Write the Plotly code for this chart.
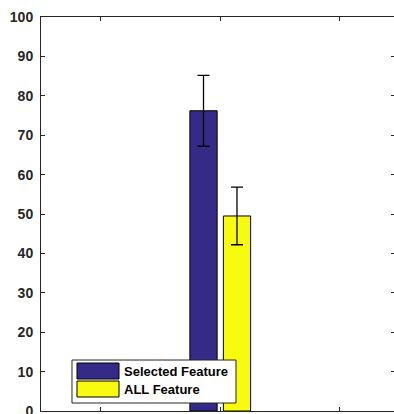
import plotly.graph_objects as go

# Grouped bar data (one group at x = 2 on a 1..3 axis)
group_x = [2]
series_names = ["Selected Feature", "ALL Feature"]
selected_vals = [76.2]
selected_err = [9.0]
all_vals = [49.5]
all_err = [7.3]
y_ticks = list(range(0, 101, 10))

blue = "rgb(53,42,135)"
yellow = "rgb(249,251,14)"
axis_col = "#262626"
bar_w = 0.228

fig = go.Figure()
fig.add_trace(go.Bar(
    x=group_x, y=selected_vals, name=series_names[0],
    width=bar_w, offset=-0.255,
    marker=dict(color=blue, line=dict(color="black", width=1)),
    error_y=dict(type="data", array=selected_err, color="black", thickness=1.3, width=6),
    showlegend=False,
))
fig.add_trace(go.Bar(
    x=group_x, y=all_vals, name=series_names[1],
    width=bar_w, offset=0.025,
    marker=dict(color=yellow, line=dict(color="black", width=1)),
    error_y=dict(type="data", array=all_err, color="black", thickness=1.3, width=6),
    showlegend=False,
))
# invisible trace to carry the right-hand tick axis
fig.add_trace(go.Scatter(x=group_x, y=[0], yaxis="y2", mode="markers",
                         marker=dict(opacity=0), showlegend=False, hoverinfo="skip"))

# Hand-drawn legend box in the lower-left of the plot area
L = dict(x0=0.0878, x1=0.5524, y0=0.0203, y1=0.1294)
shapes = [
    dict(type="rect", xref="paper", yref="paper", **L,
         fillcolor="white", line=dict(color=axis_col, width=1), layer="above"),
    dict(type="rect", xref="paper", yref="paper", x0=0.102, x1=0.221, y0=0.0812, y1=0.1218,
         fillcolor=blue, line=dict(color="black", width=1), layer="above"),
    dict(type="rect", xref="paper", yref="paper", x0=0.102, x1=0.221, y0=0.0355, y1=0.0761,
         fillcolor=yellow, line=dict(color="black", width=1), layer="above"),
]
annotations = [
    dict(xref="paper", yref="paper", x=0.2295, y=yy, text=f"<b>{t}</b>", showarrow=False,
         xanchor="left", yanchor="middle", font=dict(size=13, color="black"))
    for t, yy in zip(series_names, [0.1015, 0.0558])
]

fig.update_layout(
    width=394, height=414,
    margin=dict(l=41, r=0, t=17, b=3, autoexpand=False),
    paper_bgcolor="white", plot_bgcolor="white",
    font=dict(family="Liberation Sans, Arial, sans-serif", color=axis_col),
    barmode="overlay",
    shapes=shapes, annotations=annotations,
    xaxis=dict(range=[0.5, 3.452], tickvals=[1, 2, 3], showticklabels=False,
               ticks="inside", ticklen=4, tickcolor=axis_col, automargin=False,
               showline=True, linecolor=axis_col, linewidth=1, mirror="ticks",
               showgrid=False, zeroline=False),
    yaxis=dict(range=[0, 100], tickvals=y_ticks, ticktext=[f"<b>{v}</b>" for v in y_ticks],
               ticks="inside", ticklen=4, tickcolor=axis_col, ticklabelstandoff=4,
               ticklabeloverflow="allow", automargin=False,
               tickfont=dict(size=14, color=axis_col),
               showline=True, linecolor=axis_col, linewidth=1,
               showgrid=False, zeroline=False),
    yaxis2=dict(range=[0, 100], tickvals=y_ticks, overlaying="y", side="right",
                ticks="inside", ticklen=3, tickcolor=axis_col, showticklabels=False,
                automargin=False,
                showline=False, showgrid=False, zeroline=False),
)

fig.write_html("out.html")
